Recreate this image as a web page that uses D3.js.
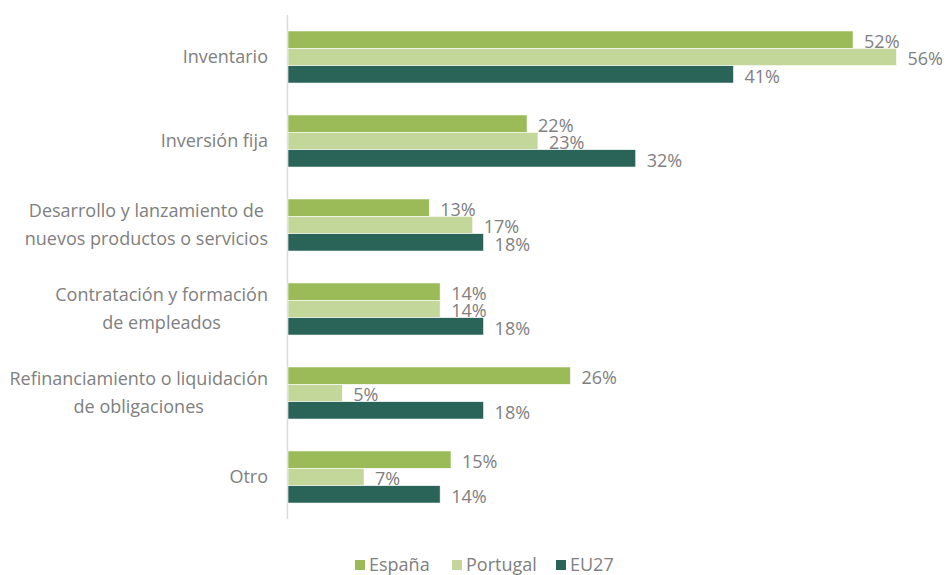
<!DOCTYPE html>
<html>
<head>
<meta charset="utf-8">
<script src="https://cdn.jsdelivr.net/npm/d3@7"></script>
<style>
  body { margin: 0; background: #fff; }
  svg text { font-family: "Open Sans", "Noto Sans", sans-serif; fill: #808080; }
</style>
</head>
<body>
<svg id="chart" width="947" height="575"></svg>
<script>
// Data
var categories = [
    ["Inventario"],
    ["Inversión fija"],
    ["Desarrollo y lanzamiento de", "nuevos productos o servicios"],
    ["Contratación y formación", "de empleados"],
    ["Refinanciamiento o liquidación", "de obligaciones"],
    ["Otro"]
];
var seriesNames = ["España", "Portugal", "EU27"];
var espana = [52, 22, 13, 14, 26, 15];
var portugal = [56, 23, 17, 14, 5, 7];
var eu27 = [41, 32, 18, 18, 18, 14];
var seriesValues = [espana, portugal, eu27];
var colors = ["#9bbb59", "#c4d79b", "#2a6358"];

var svg = d3.select("#chart");

// scales
var y = d3.scaleBand()
    .domain(d3.range(categories.length))
    .range([15, 519])
    .paddingInner(0.38)
    .paddingOuter(0.19);

var ySub = d3.scaleBand()
    .domain(d3.range(seriesNames.length))
    .range([0, y.bandwidth()]);

var x = d3.scaleLinear()
    .domain([0, 60])
    .range([288, 940]);

// axis line
svg.append("line")
    .attr("x1", 287.5).attr("x2", 287.5)
    .attr("y1", 15).attr("y2", 519)
    .attr("stroke", "#d9d9d9")
    .attr("stroke-width", 1.5);

// category labels (centered block, right aligned)
categories.forEach(function (lines, i) {
    var g = svg.append("g");
    var lineH = 28;
    var cy = y(i) + y.bandwidth() / 2;
    var texts = g.selectAll("text")
        .data(lines)
        .enter()
        .append("text")
        .attr("text-anchor", "middle")
        .attr("font-size", 18)
        .attr("dy", "0.35em")
        .attr("y", function (d, j) { return cy + (j - (lines.length - 1) / 2) * lineH; })
        .text(function (d) { return d; });
    var maxW = 0;
    texts.each(function () { maxW = Math.max(maxW, this.getComputedTextLength()); });
    texts.attr("x", 268 - maxW / 2);
});

// bars, series by series so later bars cover earlier labels
seriesValues.forEach(function (vals, s) {
    var g = svg.append("g");
    g.selectAll("rect")
        .data(vals)
        .enter()
        .append("rect")
        .attr("x", x(0))
        .attr("y", function (d, i) { return y(i) + ySub(s); })
        .attr("width", function (d) { return x(d) - x(0); })
        .attr("height", ySub.bandwidth())
        .attr("fill", colors[s])
        .attr("stroke", "#fff")
        .attr("stroke-width", 0.6);

    g.selectAll("text")
        .data(vals)
        .enter()
        .append("text")
        .attr("x", function (d) { return x(d) + 11; })
        .attr("y", function (d, i) { return y(i) + ySub(s) + ySub.bandwidth() / 2 + 2; })
        .attr("dy", "0.35em")
        .attr("font-size", 18)
        .text(function (d) { return d + "%"; });
});

// legend
var legendX = [355, 452, 556];
var legend = svg.append("g");
seriesNames.forEach(function (name, s) {
    legend.append("rect")
        .attr("x", legendX[s])
        .attr("y", 560)
        .attr("width", 10)
        .attr("height", 10)
        .attr("fill", colors[s]);
    legend.append("text")
        .attr("x", legendX[s] + 14)
        .attr("y", 565)
        .attr("dy", "0.35em")
        .attr("font-size", 18)
        .text(name);
});
</script>
</body>
</html>
